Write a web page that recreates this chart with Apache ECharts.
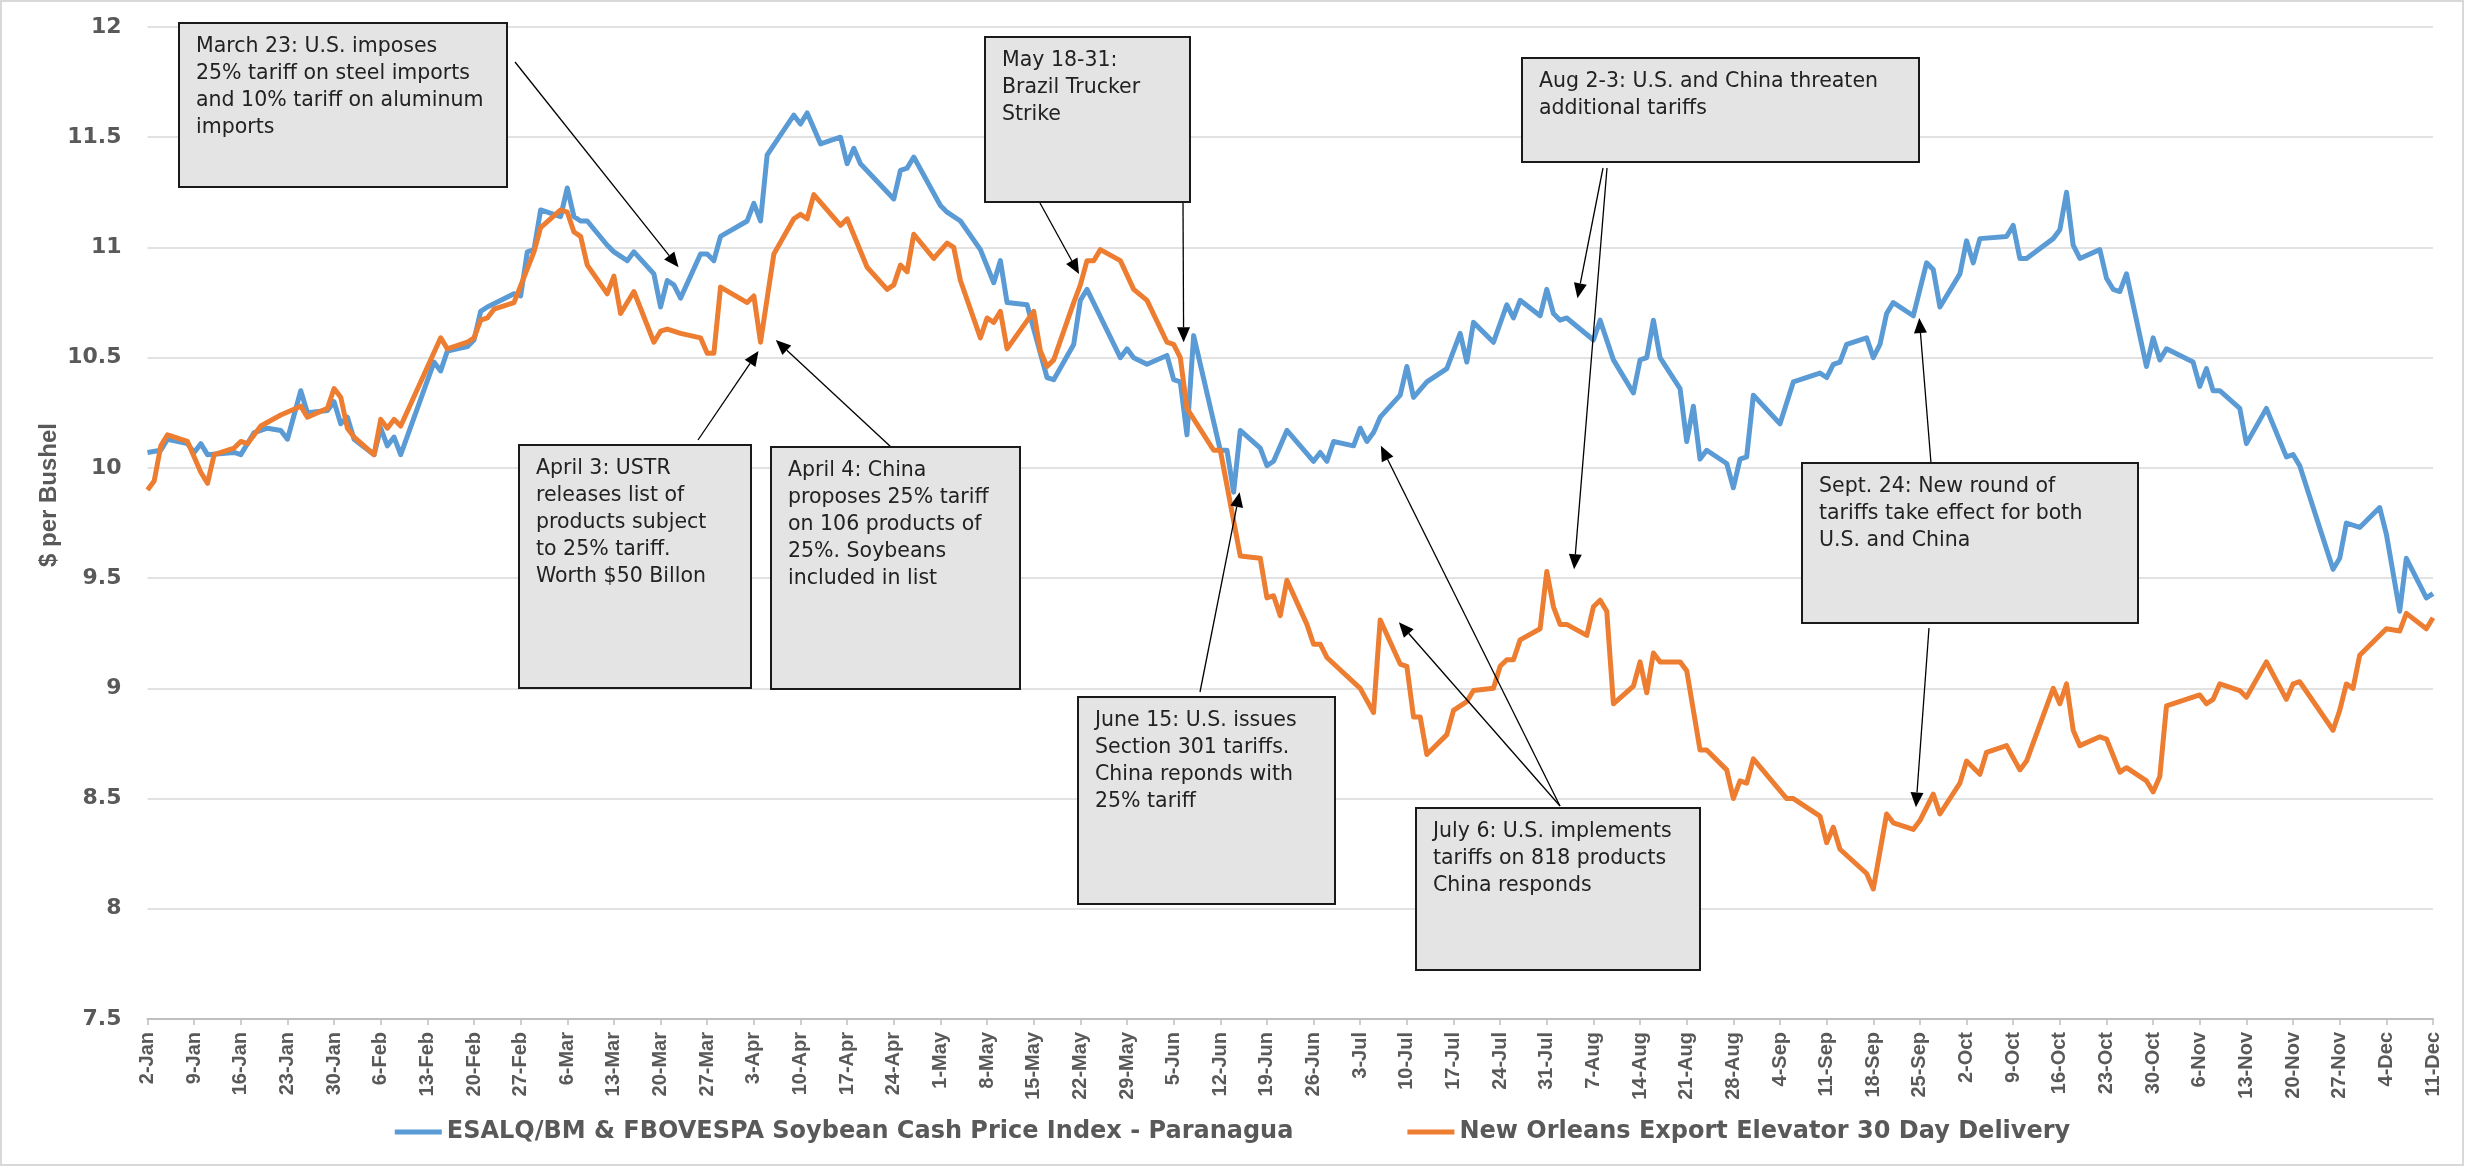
<!DOCTYPE html>
<html>
<head>
<meta charset="utf-8">
<script src="https://cdn.jsdelivr.net/npm/echarts@6/dist/echarts.min.js"></script>
<style>html,body{margin:0;padding:0;background:#fff}#c{width:2465px;height:1167px}</style>
</head>
<body>
<div id="c"></div>
<script>
// x values are days counted from 2-Jan
const weekLabels = ['2-Jan','9-Jan','16-Jan','23-Jan','30-Jan','6-Feb','13-Feb','20-Feb','27-Feb','6-Mar','13-Mar','20-Mar','27-Mar','3-Apr','10-Apr','17-Apr','24-Apr','1-May','8-May','15-May','22-May','29-May','5-Jun','12-Jun','19-Jun','26-Jun','3-Jul','10-Jul','17-Jul','24-Jul','31-Jul','7-Aug','14-Aug','21-Aug','28-Aug','4-Sep','11-Sep','18-Sep','25-Sep','2-Oct','9-Oct','16-Oct','23-Oct','30-Oct','6-Nov','13-Nov','20-Nov','27-Nov','4-Dec','11-Dec'];
const yTicks = [7.5, 12, 0.5];
const seriesNames = ['ESALQ/BM & FBOVESPA Soybean Cash Price Index - Paranagua', 'New Orleans Export Elevator 30 Day Delivery'];

const paranagua = [[0,10.07],[2,10.08],[3,10.13],[6,10.11],[7,10.07],[8,10.11],[9,10.06],[13,10.07],[14,10.06],[16,10.16],[18,10.18],[20,10.17],[21,10.13],[23,10.35],[24,10.25],[27,10.26],[28,10.30],[29,10.20],[30,10.23],[31,10.13],[34,10.06],[35,10.18],[36,10.10],[37,10.14],[38,10.06],[43,10.48],[44,10.44],[45,10.53],[48,10.55],[49,10.58],[50,10.71],[51,10.73],[55,10.79],[56,10.78],[57,10.98],[58,10.99],[59,11.17],[62,11.14],[63,11.27],[64,11.14],[65,11.12],[66,11.12],[69,11.01],[70,10.98],[72,10.94],[73,10.98],[76,10.88],[77,10.73],[78,10.85],[79,10.83],[80,10.77],[83,10.97],[84,10.97],[85,10.94],[86,11.05],[90,11.12],[91,11.20],[92,11.12],[93,11.42],[97,11.60],[98,11.56],[99,11.61],[101,11.47],[104,11.50],[105,11.38],[106,11.45],[107,11.38],[112,11.22],[113,11.35],[114,11.36],[115,11.41],[119,11.19],[120,11.16],[122,11.12],[125,10.99],[127,10.84],[128,10.94],[129,10.75],[132,10.74],[135,10.41],[136,10.40],[139,10.56],[140,10.76],[141,10.81],[146,10.50],[147,10.54],[148,10.50],[150,10.47],[153,10.51],[154,10.40],[155,10.39],[156,10.15],[157,10.60],[161,10.08],[162,10.08],[163,9.89],[164,10.17],[167,10.09],[168,10.01],[169,10.03],[171,10.17],[175,10.03],[176,10.07],[177,10.03],[178,10.12],[181,10.10],[182,10.18],[183,10.12],[184,10.16],[185,10.23],[188,10.33],[189,10.46],[190,10.32],[192,10.39],[195,10.45],[197,10.61],[198,10.48],[199,10.66],[202,10.57],[204,10.74],[205,10.68],[206,10.76],[209,10.69],[210,10.81],[211,10.70],[212,10.67],[213,10.68],[217,10.58],[218,10.67],[220,10.49],[223,10.34],[224,10.49],[225,10.50],[226,10.67],[227,10.50],[230,10.36],[231,10.12],[232,10.28],[233,10.04],[234,10.08],[237,10.02],[238,9.91],[239,10.04],[240,10.05],[241,10.33],[245,10.20],[247,10.39],[251,10.43],[252,10.41],[253,10.47],[254,10.48],[255,10.56],[258,10.59],[259,10.50],[260,10.56],[261,10.70],[262,10.75],[265,10.69],[267,10.93],[268,10.90],[269,10.73],[272,10.88],[273,11.03],[274,10.93],[275,11.04],[279,11.05],[280,11.10],[281,10.95],[282,10.95],[286,11.04],[287,11.08],[288,11.25],[289,11.01],[290,10.95],[293,10.99],[294,10.86],[295,10.81],[296,10.80],[297,10.88],[300,10.46],[301,10.59],[302,10.49],[303,10.54],[307,10.48],[308,10.37],[309,10.45],[310,10.35],[311,10.35],[314,10.27],[315,10.11],[318,10.27],[321,10.05],[322,10.06],[323,10.01],[328,9.54],[329,9.59],[330,9.75],[332,9.73],[335,9.82],[336,9.70],[338,9.35],[339,9.59],[342,9.41],[343,9.43]];

const newOrleans = [[0,9.90],[1,9.94],[2,10.10],[3,10.15],[6,10.12],[8,9.98],[9,9.93],[10,10.06],[13,10.09],[14,10.12],[15,10.11],[17,10.19],[20,10.24],[23,10.28],[24,10.23],[27,10.27],[28,10.36],[29,10.32],[30,10.18],[31,10.14],[34,10.06],[35,10.22],[36,10.18],[37,10.22],[38,10.19],[44,10.59],[45,10.54],[48,10.57],[49,10.59],[50,10.67],[51,10.68],[52,10.72],[55,10.75],[58,10.98],[59,11.09],[62,11.17],[63,11.16],[64,11.07],[65,11.05],[66,10.92],[69,10.79],[70,10.87],[71,10.70],[73,10.80],[76,10.57],[77,10.62],[78,10.63],[80,10.61],[83,10.59],[84,10.52],[85,10.52],[86,10.82],[90,10.75],[91,10.78],[92,10.57],[94,10.97],[97,11.13],[98,11.15],[99,11.13],[100,11.24],[104,11.10],[105,11.13],[108,10.91],[111,10.81],[112,10.83],[113,10.92],[114,10.89],[115,11.06],[118,10.95],[120,11.02],[121,11.00],[122,10.85],[125,10.59],[126,10.68],[127,10.66],[128,10.71],[129,10.54],[133,10.71],[134,10.53],[135,10.46],[136,10.49],[139,10.75],[140,10.83],[141,10.94],[142,10.94],[143,10.99],[146,10.94],[148,10.81],[150,10.76],[153,10.57],[154,10.56],[155,10.50],[156,10.27],[160,10.08],[161,10.08],[164,9.60],[167,9.59],[168,9.41],[169,9.42],[170,9.33],[171,9.49],[174,9.29],[175,9.20],[176,9.20],[177,9.14],[182,9.00],[184,8.89],[185,9.31],[188,9.11],[189,9.10],[190,8.87],[191,8.87],[192,8.70],[195,8.79],[196,8.90],[198,8.94],[199,8.99],[202,9.00],[203,9.10],[204,9.13],[205,9.13],[206,9.22],[209,9.27],[210,9.53],[211,9.37],[212,9.29],[213,9.29],[216,9.24],[217,9.37],[218,9.40],[219,9.35],[220,8.93],[223,9.01],[224,9.12],[225,8.98],[226,9.16],[227,9.12],[230,9.12],[231,9.08],[233,8.72],[234,8.72],[237,8.63],[238,8.50],[239,8.58],[240,8.57],[241,8.68],[246,8.50],[247,8.50],[251,8.42],[252,8.30],[253,8.37],[254,8.27],[258,8.16],[259,8.09],[261,8.43],[262,8.39],[265,8.36],[266,8.40],[268,8.52],[269,8.43],[272,8.57],[273,8.67],[275,8.61],[276,8.71],[279,8.74],[281,8.63],[282,8.67],[286,9.00],[287,8.93],[288,9.02],[289,8.81],[290,8.74],[293,8.78],[294,8.77],[296,8.62],[297,8.64],[300,8.58],[301,8.53],[302,8.60],[303,8.92],[308,8.97],[309,8.93],[310,8.95],[311,9.02],[314,8.99],[315,8.96],[318,9.12],[321,8.95],[322,9.02],[323,9.03],[328,8.81],[329,8.90],[330,9.02],[331,9.00],[332,9.15],[336,9.27],[338,9.26],[339,9.34],[342,9.27],[343,9.32]];

// annotation texts
const noteTexts = [
  'March 23: U.S. imposes\n25% tariff on steel imports\nand 10% tariff on aluminum\nimports',
  'April 3: USTR\nreleases list of\nproducts subject\nto 25% tariff.\nWorth $50 Billon',
  'April 4: China\nproposes 25% tariff\non 106 products of\n25%. Soybeans\nincluded in list',
  'May 18-31:\nBrazil Trucker\nStrike',
  'Aug 2-3: U.S. and China threaten\nadditional tariffs',
  'June 15: U.S. issues\nSection 301 tariffs.\nChina reponds with\n25% tariff',
  'July 6: U.S. implements\ntariffs on 818 products\nChina responds',
  'Sept. 24: New round of\ntariffs take effect for both\nU.S. and China'
];
// annotation layout (pixels): x, y, w, h
const noteBoxes = [
  [179, 23, 328, 164],
  [519, 445, 232, 243],
  [771, 447, 249, 242],
  [985, 37, 205, 165],
  [1522, 58, 397, 104],
  [1078, 697, 257, 207],
  [1416, 808, 284, 162],
  [1802, 463, 336, 160]
];
// arrows: start in pixels (box edge), tip in data coords [day, price]
const arrowStarts = [[515,62],[698,440],[891,447],[1040,203],[1183,203],[1603,168],[1607,168],[1200,692],[1560,806],[1560,806],[1931,463],[1929,628]];
const arrowTips = [[79.7,10.91],[91.7,10.53],[94.3,10.58],[139.8,10.88],[155.5,10.57],[214.6,10.77],[214.1,9.54],[163.9,9.89],[185.1,10.10],[187.8,9.30],[265.9,10.68],[265.4,8.46]];

const chart = echarts.init(document.getElementById('c'), null, {renderer: 'canvas'});
const grey = '#595959';
const option = {
  animation: false,
  backgroundColor: '#ffffff',
  grid: {left: 147.5, right: 32, top: 27, bottom: 148},
  legend: {
    bottom: 18, left: 'center',
    itemGap: 114, itemWidth: 47, itemHeight: 5, icon: 'rect',
    textStyle: {fontFamily: 'DejaVu Sans', fontWeight: 'bold', fontSize: 24, color: grey},
    data: seriesNames
  },
  xAxis: {
    type: 'value', min: 0, max: 343, interval: 7,
    axisLine: {show: true, onZero: false, lineStyle: {color: '#bfbfbf', width: 2}},
    axisTick: {show: true, length: 6, lineStyle: {color: '#bfbfbf', width: 1.5}},
    splitLine: {show: false},
    axisLabel: {
      rotate: 90, margin: 13, color: grey, fontFamily: 'Liberation Sans', fontWeight: 'bold', fontSize: 20,
      formatter: v => weekLabels[Math.round(v / 7)] || ''
    }
  },
  yAxis: {
    type: 'value', min: yTicks[0], max: yTicks[1], interval: yTicks[2],
    axisLine: {show: false}, axisTick: {show: false},
    splitLine: {lineStyle: {color: '#d9d9d9', width: 1.5}},
    axisLabel: {margin: 26, color: grey, fontFamily: 'DejaVu Sans', fontWeight: 'bold', fontSize: 22}
  },
  series: [
    {name: seriesNames[0], type: 'line', data: paranagua, showSymbol: false, symbol: 'none',
     color: '#5B9BD5', lineStyle: {width: 5, color: '#5B9BD5', join: 'round'}, z: 3},
    {name: seriesNames[1], type: 'line', data: newOrleans, showSymbol: false, symbol: 'none',
     color: '#ED7D31', lineStyle: {width: 5, color: '#ED7D31', join: 'round'}, z: 4}
  ]
};
chart.setOption(option);

const gfx = [];
gfx.push({type: 'rect', z: 1, silent: true, shape: {x: 1, y: 1, width: 2462, height: 1164},
  style: {fill: 'none', stroke: '#d9d9d9', lineWidth: 2}});
gfx.push({type: 'text', z: 10, x: 49, y: 495, rotation: Math.PI / 2,
  style: {text: '$ per Bushel', fontFamily: 'Liberation Sans', fontWeight: 'bold', fontSize: 24, fill: grey, align: 'center', verticalAlign: 'middle'}});

arrowStarts.forEach((s, i) => {
  const tip = chart.convertToPixel({gridIndex: 0}, arrowTips[i]);
  const dx = tip[0] - s[0], dy = tip[1] - s[1];
  const len = Math.sqrt(dx * dx + dy * dy);
  const ux = dx / len, uy = dy / len;
  const L = 15, W = 6.5;
  const bx = tip[0] - ux * L, by = tip[1] - uy * L;
  gfx.push({type: 'line', z: 20, shape: {x1: s[0], y1: s[1], x2: bx, y2: by}, style: {stroke: '#000', lineWidth: 1.3}});
  gfx.push({type: 'polygon', z: 20, shape: {points: [[tip[0], tip[1]], [bx - uy * W, by + ux * W], [bx + uy * W, by - ux * W]]}, style: {fill: '#000'}});
});

noteBoxes.forEach((b, i) => {
  gfx.push({type: 'rect', z: 30, shape: {x: b[0], y: b[1], width: b[2], height: b[3]},
    style: {fill: '#e4e4e4', stroke: '#1a1a1a', lineWidth: 2}});
  gfx.push({type: 'text', z: 31, x: b[0] + 17, y: b[1] + 10.5,
    style: {text: noteTexts[i], fontFamily: 'DejaVu Sans', fontSize: 20.5, lineHeight: 27, fill: '#222', align: 'left', verticalAlign: 'top'}});
});

chart.setOption({graphic: gfx});
</script>
</body>
</html>
